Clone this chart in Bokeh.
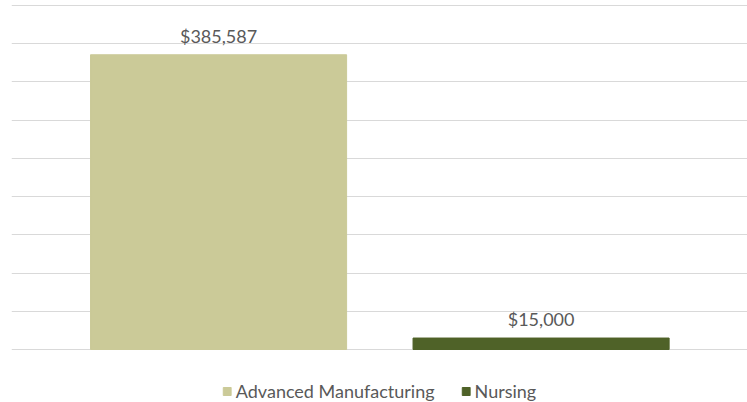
from bokeh.plotting import figure
from bokeh.models import ColumnDataSource, Range1d, LabelSet, Legend, LegendItem, FixedTicker
from bokeh.core.properties import value
from bokeh.embed import file_html
from bokeh.resources import INLINE

categories = ["Advanced Manufacturing", "Nursing"]
values = [385587, 15000]
value_labels = ["$385,587", "$15,000"]
colors = ["#CBCA98", "#4F6228"]
grid_ticks = [0, 50000, 100000, 150000, 200000, 250000, 300000, 350000, 400000, 450000]

src = ColumnDataSource(dict(
    x=list(range(len(categories))),
    top=values,
    lab=value_labels,
    color=colors,
    cat=categories,
))

p = figure(width=747, height=402, output_backend="svg", toolbar_location=None,
           x_range=Range1d(-0.642, 1.640), y_range=Range1d(-69330, 456560),
           min_border_left=11, min_border_right=0, min_border_top=0, min_border_bottom=0)
p.outline_line_color = None
p.background_fill_color = "white"
p.border_fill_color = "white"

r = p.vbar(x="x", top="top", width=0.794, color="color", source=src)

p.xaxis.visible = False
p.yaxis.visible = False
p.xgrid.grid_line_color = None
p.ygrid.ticker = FixedTicker(ticks=grid_ticks)
p.ygrid.grid_line_color = "#D9D9D9"
p.ygrid.grid_line_width = 1

labels = LabelSet(x="x", y="top", text="lab", source=src, y_offset=8,
                  text_align="center", text_baseline="bottom",
                  text_font=value("Lato"), text_font_size="18px", text_color="#595959")
p.add_layout(labels)

items = [LegendItem(label=c, renderers=[r], index=i) for i, c in enumerate(categories)]
legend = Legend(items=items, location="bottom_center", orientation="horizontal",
                border_line_color=None, background_fill_alpha=0,
                label_text_font="Lato", label_text_font_size="18px", label_text_color="#595959",
                glyph_width=10, glyph_height=10, spacing=26, padding=0, margin=0,
                label_standoff=4)
p.add_layout(legend)

open("out.html", "w").write(file_html(p, INLINE))
